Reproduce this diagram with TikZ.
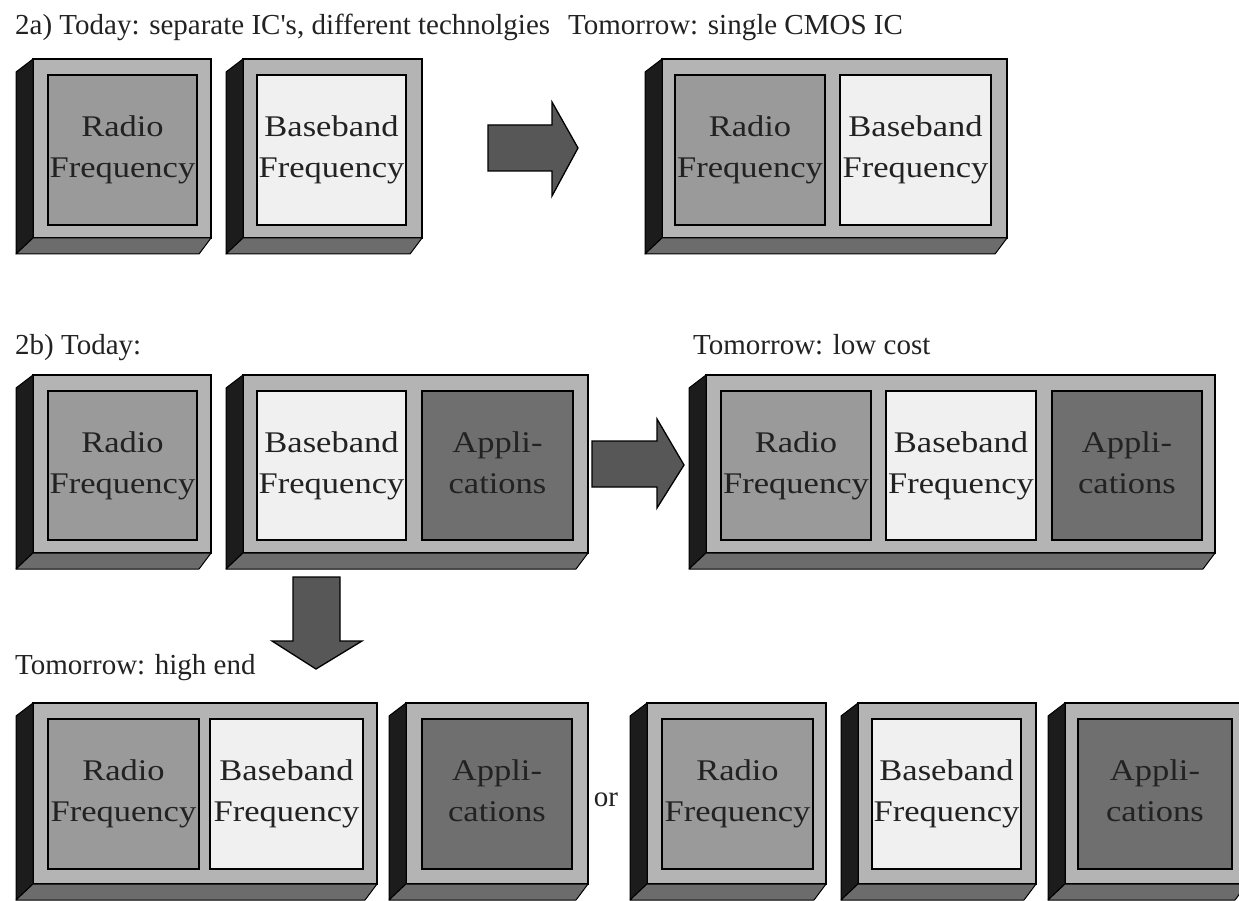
\documentclass[tikz,border=0pt]{standalone}
\usepackage{fontspec}
\setmainfont{Liberation Serif}
\newfontfamily\lblfont[FakeStretch=1.15]{Liberation Serif}
\usetikzlibrary{calc}

\definecolor{facegray}{HTML}{B4B4B4}
\definecolor{sidegray}{HTML}{1C1C1C}
\definecolor{basegray}{HTML}{6C6C6C}
\definecolor{rfgray}{HTML}{9A9A9A}
\definecolor{bbgray}{HTML}{F0F0F0}
\definecolor{appgray}{HTML}{6F6F6F}
\definecolor{arrowgray}{HTML}{575757}
\definecolor{inkgray}{HTML}{222222}

\tikzset{
  chipface/.style={draw=black, line width=1.3pt, fill=facegray, inner sep=0pt, outer sep=0pt, anchor=north west},
  chipside/.style={draw=black, line width=1pt, fill=sidegray, line join=round},
  chipbase/.style={draw=black, line width=1pt, fill=basegray, line join=round},
  block/.style={draw=black, line width=2pt, inner sep=0pt, outer sep=0pt, anchor=north west,
    align=center, text=inkgray, font=\lblfont\fontsize{30}{41}\selectfont},
  rfblock/.style={block, fill=rfgray},
  bbblock/.style={block, fill=bbgray},
  appblock/.style={block, fill=appgray},
  caption/.style={anchor=base west, inner sep=0pt, text=inkgray, font=\fontsize{29}{34}\selectfont},
  bigarrow/.style={draw=black, line width=1.3pt, fill=arrowgray, line join=miter},
}

% extruded chip package: front face node plus left side and bottom
\newcommand\chippkg[5]{%
  \node[chipface, minimum width=#4-#2, minimum height=#5-#3] (#1) at (#2,#3) {};
  \filldraw[chipside] (#1.north west) -- ++(-17,13) -- ($(#1.south west)+(-17,16)$) -- (#1.south west) -- cycle;
  \filldraw[chipbase] (#1.south west) -- (#1.south east) -- ++(-12,16) -- ($(#1.south west)+(-17,16)$) -- cycle;
}
% functional block inside a package (two-line label, last line strutted)
\newcommand\fblock[7]{%
  \node[#2, minimum width=#5-#3, minimum height=#6-#4, text width=#5-#3] (#1) at (#3,#4) {#7\vphantom{y}};
}

\begin{document}
\begin{tikzpicture}[x=1pt, y=-1pt]
  \useasboundingbox (0,0) rectangle (1239,901);
  \begin{scope}
  \clip (0,0) rectangle (1239,901);

  % ---------- 2a ----------
  \node[caption] (capa) at (15,35) {2a) Today: separate IC\textquotesingle s, different technolgies};
  \node[caption] (capat) at (568,35) {Tomorrow: single CMOS IC};

  \chippkg{pa1}{33}{59}{211}{238}
  \fblock{a1rf}{rfblock}{48}{75}{197}{225}{Radio\\Frequency}

  \chippkg{pa2}{243}{59}{422}{238}
  \fblock{a2bb}{bbblock}{257}{75}{406}{225}{Baseband\\Frequency}

  \filldraw[bigarrow] (488,125) -- (552,125) -- (552,102) -- (578,148)
    -- (552,196) -- (552,171) -- (488,171) -- cycle;

  \chippkg{pa3}{662}{59}{1007}{238}
  \fblock{a3rf}{rfblock}{675}{75}{825}{225}{Radio\\Frequency}
  \fblock{a3bb}{bbblock}{840}{75}{991}{225}{Baseband\\Frequency}

  % ---------- 2b ----------
  \node[caption] (capb) at (15,354) {2b) Today:};
  \node[caption] (capbt) at (693,354) {Tomorrow: low cost};

  \chippkg{pb1}{33}{375}{211}{553}
  \fblock{b1rf}{rfblock}{48}{391}{197}{540}{Radio\\Frequency}

  \chippkg{pb2}{243}{375}{588}{553}
  \fblock{b2bb}{bbblock}{257}{391}{406}{540}{Baseband\\Frequency}
  \fblock{b2ap}{appblock}{422}{391}{573}{540}{Appli-\\cations}

  \filldraw[bigarrow] (592,441) -- (657,441) -- (657,419) -- (684,465)
    -- (657,508) -- (657,487) -- (592,487) -- cycle;

  \chippkg{pb3}{706}{375}{1215}{553}
  \fblock{b3rf}{rfblock}{721}{391}{871}{540}{Radio\\Frequency}
  \fblock{b3bb}{bbblock}{886}{391}{1036}{540}{Baseband\\Frequency}
  \fblock{b3ap}{appblock}{1052}{391}{1202}{540}{Appli-\\cations}

  \filldraw[bigarrow] (293,577) -- (340,577) -- (340,641) -- (362,641)
    -- (316,669) -- (272,641) -- (293,641) -- cycle;

  \node[caption] (capc) at (15,674) {Tomorrow: high end};

  % ---------- high end options ----------
  \chippkg{pc1}{33}{703}{377}{884}
  \fblock{c1rf}{rfblock}{48}{719}{199}{869}{Radio\\Frequency}
  \fblock{c1bb}{bbblock}{210}{719}{363}{869}{Baseband\\Frequency}

  \chippkg{pc2}{406}{703}{588}{884}
  \fblock{c2ap}{appblock}{422}{719}{572}{869}{Appli-\\cations}

  \node[caption, anchor=base] (orlbl) at (606,806) {or};

  \chippkg{pc3}{647}{703}{826}{884}
  \fblock{c3rf}{rfblock}{662}{719}{813}{869}{Radio\\Frequency}

  \chippkg{pc4}{858}{703}{1036}{884}
  \fblock{c4bb}{bbblock}{872}{719}{1021}{869}{Baseband\\Frequency}

  \chippkg{pc5}{1065}{703}{1247}{884}
  \fblock{c5ap}{appblock}{1078}{719}{1232}{869}{Appli-\\cations}
  \end{scope}
\end{tikzpicture}
\end{document}
